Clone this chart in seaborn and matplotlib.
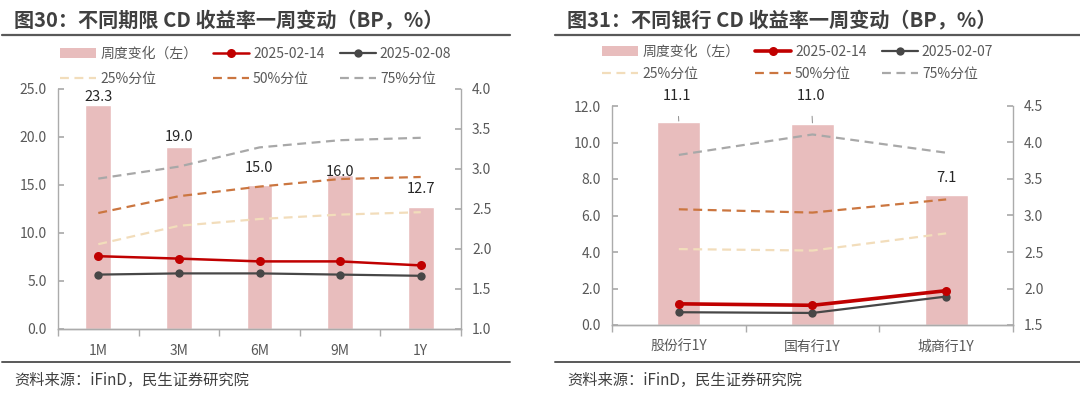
import numpy as np
import matplotlib
matplotlib.use('Agg')
import matplotlib.pyplot as plt
from matplotlib.lines import Line2D
from matplotlib.patches import Patch
import seaborn as sns

# 图30：不同期限
tenor = ['1M', '3M', '6M', '9M', '1Y']
chg_tenor = [23.3, 19.0, 15.0, 16.0, 12.7]
tenor_0214 = [1.91, 1.88, 1.845, 1.845, 1.795]
tenor_0208 = [1.68, 1.695, 1.695, 1.68, 1.665]
tenor_p25 = [2.06, 2.29, 2.375, 2.43, 2.46]
tenor_p50 = [2.45, 2.66, 2.78, 2.875, 2.90]
tenor_p75 = [2.88, 3.03, 3.27, 3.36, 3.39]

# 图31：不同银行
bank = ['股份行1Y', '国有行1Y', '城商行1Y']
chg_bank = [11.1, 11.0, 7.1]
bank_0214 = [1.79, 1.77, 1.97]
bank_0207 = [1.675, 1.665, 1.89]
bank_p25 = [2.54, 2.52, 2.755]
bank_p50 = [3.085, 3.04, 3.22]
bank_p75 = [3.83, 4.11, 3.86]

BAR = '#E8BDBD'
RED = '#C00000'
DARK = '#474747'
P25 = '#F2DDBB'
P50 = '#CB7640'
P75 = '#A8A8A8'
SPINE = '#ABABAB'
TXT = '#595959'

sns.set_theme(style='white')
plt.rcParams['font.family'] = ['Noto Sans CJK SC', 'DejaVu Sans']
plt.rcParams['axes.unicode_minus'] = False


def draw_panel(fig, rect, cats, bars, red, dark, p25, p50, p75,
               ylim_l, step_l, ylim_r, step_r, label_off, leader, red_lw,
               dark_label, legend_xy, row_gap):
    n = len(cats)
    ax = fig.add_axes(rect)
    sns.barplot(x=cats, y=bars, ax=ax, color=BAR, width=0.32, saturation=1)
    ax2 = ax.twinx()
    pos = np.arange(n)
    dash = (0, (4, 2.5))
    sns.lineplot(x=pos, y=p25, ax=ax2, color=P25, lw=1.6, linestyle=dash, legend=False)
    sns.lineplot(x=pos, y=p50, ax=ax2, color=P50, lw=1.6, linestyle=dash, legend=False)
    sns.lineplot(x=pos, y=p75, ax=ax2, color=P75, lw=1.6, linestyle=dash, legend=False)
    sns.lineplot(x=pos, y=dark, ax=ax2, color=DARK, lw=1.6, marker='o',
                 markersize=6, markeredgewidth=0, legend=False)
    sns.lineplot(x=pos, y=red, ax=ax2, color=RED, lw=red_lw, marker='o',
                 markersize=6.5, markeredgewidth=0, legend=False)

    ax.set_xlim(-0.5, n - 0.5)
    ax.set_ylim(*ylim_l)
    ax.set_yticks(np.arange(ylim_l[0], ylim_l[1] + 0.01, step_l))
    ax.yaxis.set_major_formatter(matplotlib.ticker.FormatStrFormatter('%.1f'))
    ax2.set_ylim(*ylim_r)
    ax2.set_yticks(np.arange(ylim_r[0], ylim_r[1] + 0.01, step_r))
    ax2.yaxis.set_major_formatter(matplotlib.ticker.FormatStrFormatter('%.1f'))
    ax.set_xlabel('')
    ax.set_ylabel('')
    ax2.set_ylabel('')

    for a in (ax, ax2):
        a.spines['top'].set_visible(False)
        for s in a.spines.values():
            s.set_color(SPINE)
            s.set_linewidth(1)
    ax.spines['right'].set_visible(False)
    ax2.spines['left'].set_visible(False)

    ax.tick_params(axis='y', direction='in', length=4, color=SPINE,
                   labelcolor=TXT, labelsize=10, left=True, pad=8)
    ax2.tick_params(axis='y', direction='in', length=4, color=SPINE,
                    labelcolor=TXT, labelsize=10, right=True, pad=8)
    ax.set_xticks(np.arange(n + 1) - 0.5, minor=True)
    ax.tick_params(axis='x', which='minor', direction='out', length=5,
                   color=SPINE, bottom=True)
    ax.tick_params(axis='x', which='major', length=0, pad=11,
                   labelcolor=TXT, labelsize=10)

    # 数据标签
    for i, v in enumerate(bars):
        off = label_off[i] * 0.72
        if leader[i]:
            ax.annotate(f'{v:.1f}', xy=(i, v), xytext=(-1, off),
                        textcoords='offset points', ha='center', va='center',
                        fontsize=10.5, color='#262626',
                        arrowprops=dict(arrowstyle='-', color='#8C8C8C', lw=0.7,
                                        shrinkA=7, shrinkB=1))
        else:
            ax.annotate(f'{v:.1f}', xy=(i, v), xytext=(0, off),
                        textcoords='offset points', ha='center', va='center',
                        fontsize=10.5, color='#262626')

    handles = [
        Patch(facecolor=BAR, edgecolor='none'),
        Line2D([], [], color=P25, lw=1.6, linestyle=dash),
        Line2D([], [], color=RED, lw=red_lw, marker='o', markersize=6.5, markeredgewidth=0),
        Line2D([], [], color=P50, lw=1.6, linestyle=dash),
        Line2D([], [], color=DARK, lw=1.6, marker='o', markersize=6, markeredgewidth=0),
        Line2D([], [], color=P75, lw=1.6, linestyle=dash),
    ]
    labels = ['周度变化（左）', '25%分位', '2025-02-14', '50%分位', dark_label, '75%分位']
    leg = fig.legend(handles, labels, loc='upper left', bbox_to_anchor=legend_xy,
                     ncol=3, frameon=False, fontsize=10, handlelength=2.6,
                     handletextpad=0.3, columnspacing=1.1, labelspacing=row_gap,
                     borderpad=0, borderaxespad=0)
    for t in leg.get_texts():
        t.set_color(TXT)
    return ax, ax2


fig = plt.figure(figsize=(10.8, 3.93), dpi=100)

draw_panel(fig, [58 / 1080, 1 - 329 / 393, 403 / 1080, 240 / 393],
           tenor, chg_tenor, tenor_0214, tenor_0208, tenor_p25, tenor_p50, tenor_p75,
           (0, 25), 5, (1.0, 4.0), 0.5,
           [8, 10, 17, 3, 18], [False] * 5, 1.8, '2025-02-08',
           (60 / 1080, 1 - 47 / 393), 0.75)

draw_panel(fig, [612 / 1080, 1 - 325 / 393, 401 / 1080, 219 / 393],
           bank, chg_bank, bank_0214, bank_0207, bank_p25, bank_p50, bank_p75,
           (0, 12), 2, (1.5, 4.5), 0.5,
           [26, 28, 17], [True, True, False], 2.6, '2025-02-07',
           (602 / 1080, 1 - 45 / 393), 0.55)

# 标题、分隔线与来源
titles = ['图30：不同期限 CD 收益率一周变动（BP，%）', '图31：不同银行 CD 收益率一周变动（BP，%）']
for x0, x1, tx, title in [(2, 510, 14, titles[0]), (555, 1080, 567, titles[1])]:
    fig.text(tx / 1080, 1 - 20 / 393, title, fontsize=14.5, fontweight='bold',
             color='#404040', va='center', ha='left')
    fig.add_artist(Line2D([x0 / 1080, x1 / 1080], [1 - 35 / 393] * 2,
                          color='#595959', lw=1.6, transform=fig.transFigure))
    fig.add_artist(Line2D([x0 / 1080, x1 / 1080], [1 - 362 / 393] * 2,
                          color='#595959', lw=1.4, transform=fig.transFigure))
    fig.text(tx / 1080, 1 - 380 / 393, '资料来源：iFinD，民生证券研究院', fontsize=11,
             color='#404040', va='center', ha='left')

fig.savefig('out.png', dpi=100)
